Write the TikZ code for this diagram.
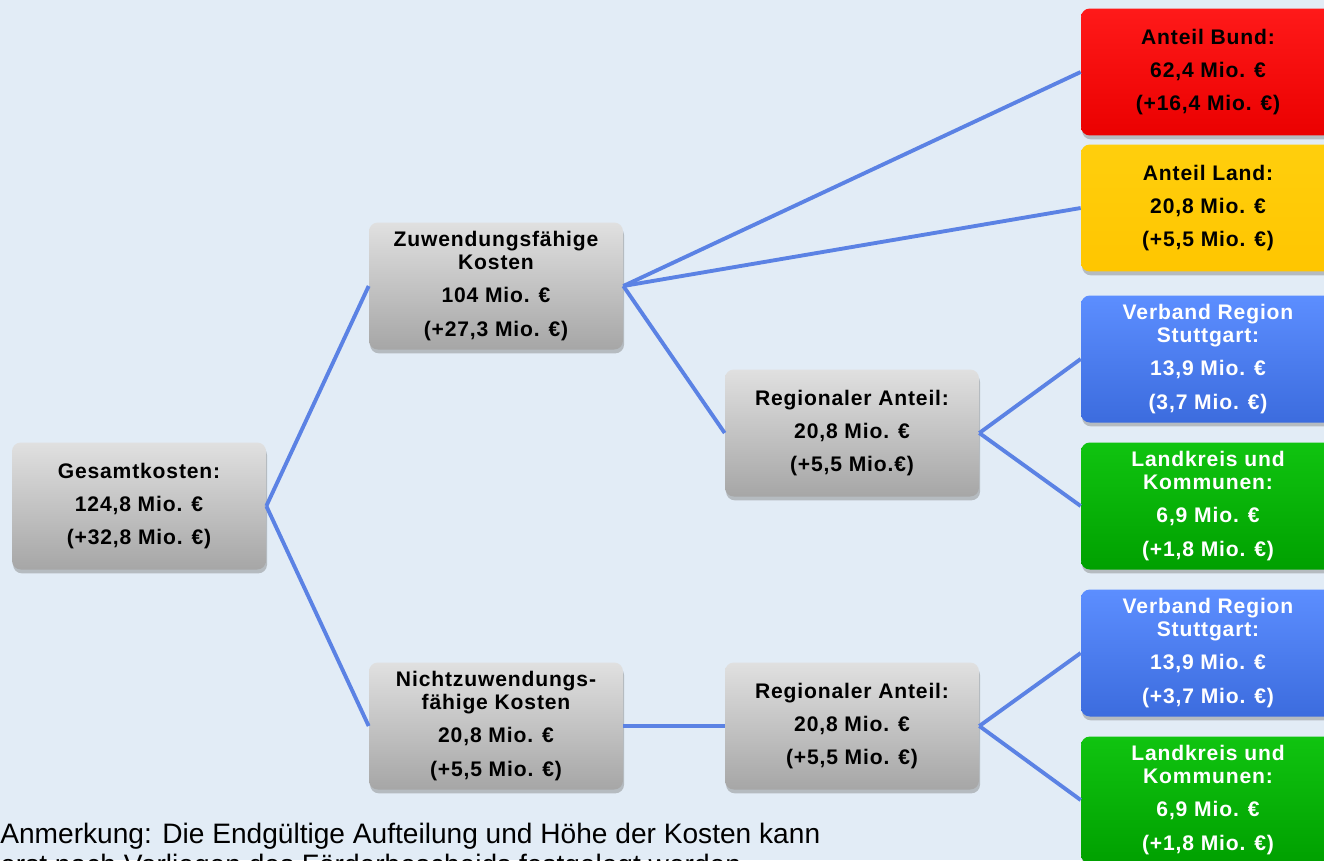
\documentclass[tikz,border=0pt]{standalone}
\usepackage{fontspec}
\setmainfont{Liberation Sans}
\newfontfamily\boxfont[LetterSpace=4]{Liberation Sans}
\usetikzlibrary{shadows}

\definecolor{bgblue}{HTML}{E2ECF6}
\definecolor{linkblue}{HTML}{5B82E4}
\definecolor{greytop}{HTML}{E0E0E0}
\definecolor{greybot}{HTML}{A6A6A6}

\begin{document}
\begin{tikzpicture}[x=0.02cm,y=-0.02cm,
    box/.style={rounded corners=5pt, minimum width=5.08cm, minimum height=2.54cm,
      align=center, inner sep=0pt, font=\boxfont\bfseries\fontsize{12}{19}\selectfont,
      drop shadow={shadow xshift=0.6pt, shadow yshift=-2.2pt, opacity=0.45}},
    greybox/.style={box, top color=greytop, bottom color=greybot},
    redbox/.style={box, top color=red!90!white, bottom color=red!92!black},
    yellowbox/.style={box, top color=yellow!60!orange!95!white, bottom color=yellow!55!orange},
    bluebox/.style={box, top color={rgb,255:red,92;green,142;blue,255}, bottom color={rgb,255:red,60;green,108;blue,222}, text=white},
    greenbox/.style={box, top color={rgb,255:red,16;green,196;blue,16}, bottom color={rgb,255:red,0;green,160;blue,0}, text=white},
    link/.style={draw=linkblue, line width=2.2pt},
    note/.style={anchor=base west, inner sep=0pt, font=\fontsize{16}{17}\selectfont}]
    \useasboundingbox (0,0) rectangle (1324,860);
    \clip (0,0) rectangle (1324,860);
    \fill[bgblue] (0,0) rectangle (1324,860);

    % left column
    \node[greybox] (gesamt) at (139,506) {Gesamtkosten:\\124,8 Mio. €\\(+32,8 Mio. €)};
    \node[greybox] (zuw) at (496,286) {Zuwendungsfähige\\[-6pt]Kosten\\104 Mio. €\\(+27,3 Mio. €)};
    \node[greybox] (nichtzuw) at (496,726) {Nichtzuwendungs-\\[-6pt]fähige Kosten\\20,8 Mio. €\\(+5,5 Mio. €)};
    \node[greybox] (regio) at (852,433) {Regionaler Anteil:\\20,8 Mio. €\\(+5,5 Mio.€)};
    \node[greybox] (regiob) at (852,726) {Regionaler Anteil:\\20,8 Mio. €\\(+5,5 Mio. €)};

    % right column
    \node[redbox] (bund) at (1208,72) {Anteil Bund:\\62,4 Mio. €\\(+16,4 Mio. €)};
    \node[yellowbox] (land) at (1208,208) {Anteil Land:\\20,8 Mio. €\\(+5,5 Mio. €)};
    \node[bluebox] (vrs) at (1208,359) {Verband Region\\[-6pt]Stuttgart:\\13,9 Mio. €\\(3,7 Mio. €)};
    \node[greenbox] (kreis) at (1208,506) {Landkreis und\\[-6pt]Kommunen:\\6,9 Mio. €\\(+1,8 Mio. €)};
    \node[bluebox] (vrsb) at (1208,653) {Verband Region\\[-6pt]Stuttgart:\\13,9 Mio. €\\(+3,7 Mio. €)};
    \node[greenbox] (kreisb) at (1208,800) {Landkreis und\\[-6pt]Kommunen:\\6,9 Mio. €\\(+1,8 Mio. €)};

    % connectors
    \draw[link] (gesamt.east) -- (zuw.west);
    \draw[link] (gesamt.east) -- (nichtzuw.west);
    \draw[link] (zuw.east) -- (bund.west);
    \draw[link] (zuw.east) -- (land.west);
    \draw[link] (zuw.east) -- (regio.west);
    \draw[link] (regio.east) -- (vrs.west);
    \draw[link] (regio.east) -- (kreis.west);
    \draw[link] (nichtzuw.east) -- (regiob.west);
    \draw[link] (regiob.east) -- (vrsb.west);
    \draw[link] (regiob.east) -- (kreisb.west);

    \node[note] (notea) at (0,843) {Anmerkung: Die Endgültige Aufteilung und Höhe der Kosten kann};
    \node[note] (noteb) at (0,874) {erst nach Vorliegen des Förderbescheids festgelegt werden.};
\end{tikzpicture}
\end{document}
